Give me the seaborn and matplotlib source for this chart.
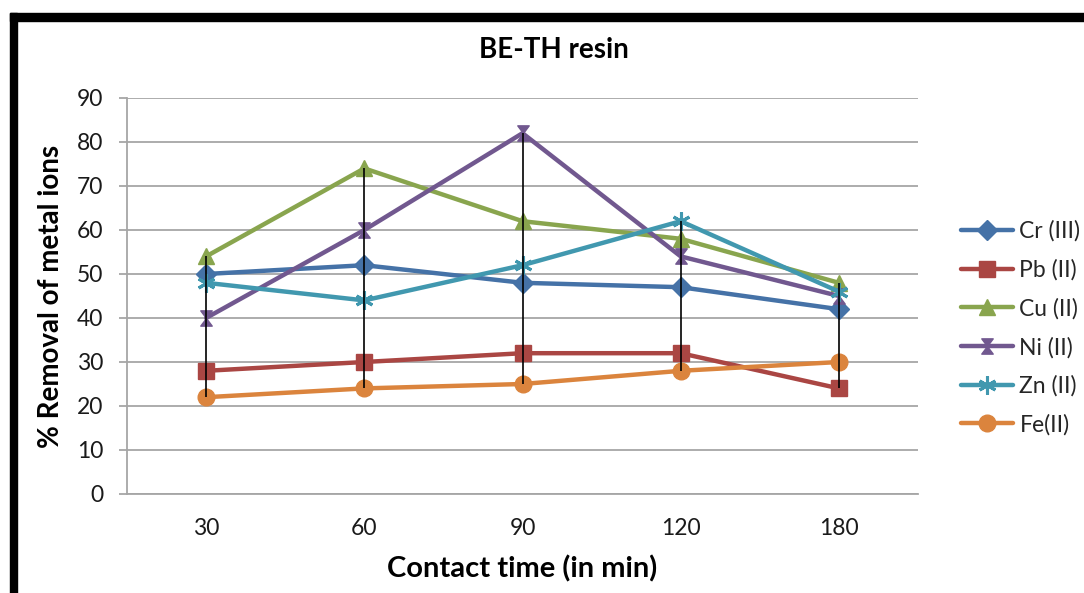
import numpy as np
import pandas as pd
import matplotlib
matplotlib.use("Agg")
import matplotlib.pyplot as plt
from matplotlib.path import Path
from matplotlib.patches import Rectangle
import seaborn as sns

# ---- data ----
times = ["30", "60", "90", "120", "180"]
cr = [50, 52, 48, 47, 42]
pb = [28, 30, 32, 32, 24]
cu = [54, 74, 62, 58, 48]
ni = [40, 60, 82, 54, 45]
zn = [48, 44, 52, 62, 46]
fe = [22, 24, 25, 28, 30]
series_names = ["Cr (III)", "Pb (II)", "Cu (II)", "Ni (II)", "Zn (II)", "Fe(II)"]
series_values = [cr, pb, cu, ni, zn, fe]
colors = ["#4572A7", "#AA4643", "#89A54E", "#71588F", "#4198AF", "#DB843D"]

title = "BE-TH resin"
xlabel = "Contact time (in min)"
ylabel = "% Removal of metal ions"

sns.set_theme(style="white")
plt.rcParams["font.family"] = ["Lato", "DejaVu Sans"]

hourglass = Path([(-0.75, 1), (0.75, 1), (-0.75, -1), (0.75, -1), (-0.75, 1)],
                 [Path.MOVETO, Path.LINETO, Path.LINETO, Path.LINETO, Path.CLOSEPOLY])
markers = ["D", "s", "^", hourglass, (6, 2, 0), "o"]
msizes = [10, 11, 12, 11, 13, 12]

W, H = 1084, 593
fig = plt.figure(figsize=(W / 100, H / 100), dpi=100)
fig.patch.set_facecolor("white")
ax = fig.add_axes([127 / W, 1 - 494 / H, 791 / W, 396 / H])

pos = np.arange(len(times))
for name, vals, col, mk, ms in zip(series_names, series_values, colors, markers, msizes):
    sns.lineplot(x=pos, y=vals, ax=ax, color=col, marker=mk, markersize=ms,
                 linewidth=3.2, markeredgecolor=col, markeredgewidth=2.2 if mk == (6, 2, 0) else 1,
                 label=name, zorder=3)

# high-low lines
arr = np.array(series_values)
ax.vlines(pos, arr.min(axis=0), arr.max(axis=0), colors="black", linewidth=1.2, zorder=4)

ax.set_xlim(-0.5, len(times) - 0.5)
ax.set_ylim(0, 90)
ax.set_yticks(np.arange(0, 91, 10))
ax.set_xticks(pos)
ax.set_xticklabels(times)
ax.yaxis.grid(True, color="#A6A6A6", linewidth=1.3)
ax.xaxis.grid(False)
for s in ["top", "right"]:
    ax.spines[s].set_visible(False)
for s in ["left", "bottom"]:
    ax.spines[s].set_color("#A6A6A6")
    ax.spines[s].set_linewidth(1.3)
ax.tick_params(axis="y", length=6, width=1.3, color="#A6A6A6", pad=11,
               labelsize=16.5, labelcolor="#1a1a1a", left=True)
ax.tick_params(axis="x", length=0, pad=17, labelsize=16.5, labelcolor="#1a1a1a")

ax.set_xlabel(xlabel, fontsize=21, fontweight="bold", color="black", labelpad=12)
ax.set_ylabel(ylabel, fontsize=20, fontweight="bold", color="black", labelpad=9)
fig.text(554 / W, 1 - 50 / H, title, fontsize=20, fontweight="bold",
         ha="center", va="center", color="black")

ax.get_legend().remove()
handles, labels = ax.get_legend_handles_labels()
fig.legend(handles, labels, loc="center left", bbox_to_anchor=(961 / W, 1 - 328 / H),
           frameon=False, fontsize=16.5, handlelength=2.25, handletextpad=0.3,
           labelspacing=0.75, borderpad=0, borderaxespad=0)

# frame border (top and left)
fig.patches.append(Rectangle((10 / W, 1 - 21 / H), 1 - 10 / W, 8 / H,
                             transform=fig.transFigure, color="black", zorder=10))
fig.patches.append(Rectangle((10 / W, 0), 7 / W, 1 - 13 / H,
                             transform=fig.transFigure, color="black", zorder=10))

fig.savefig("out.png", dpi=100)
